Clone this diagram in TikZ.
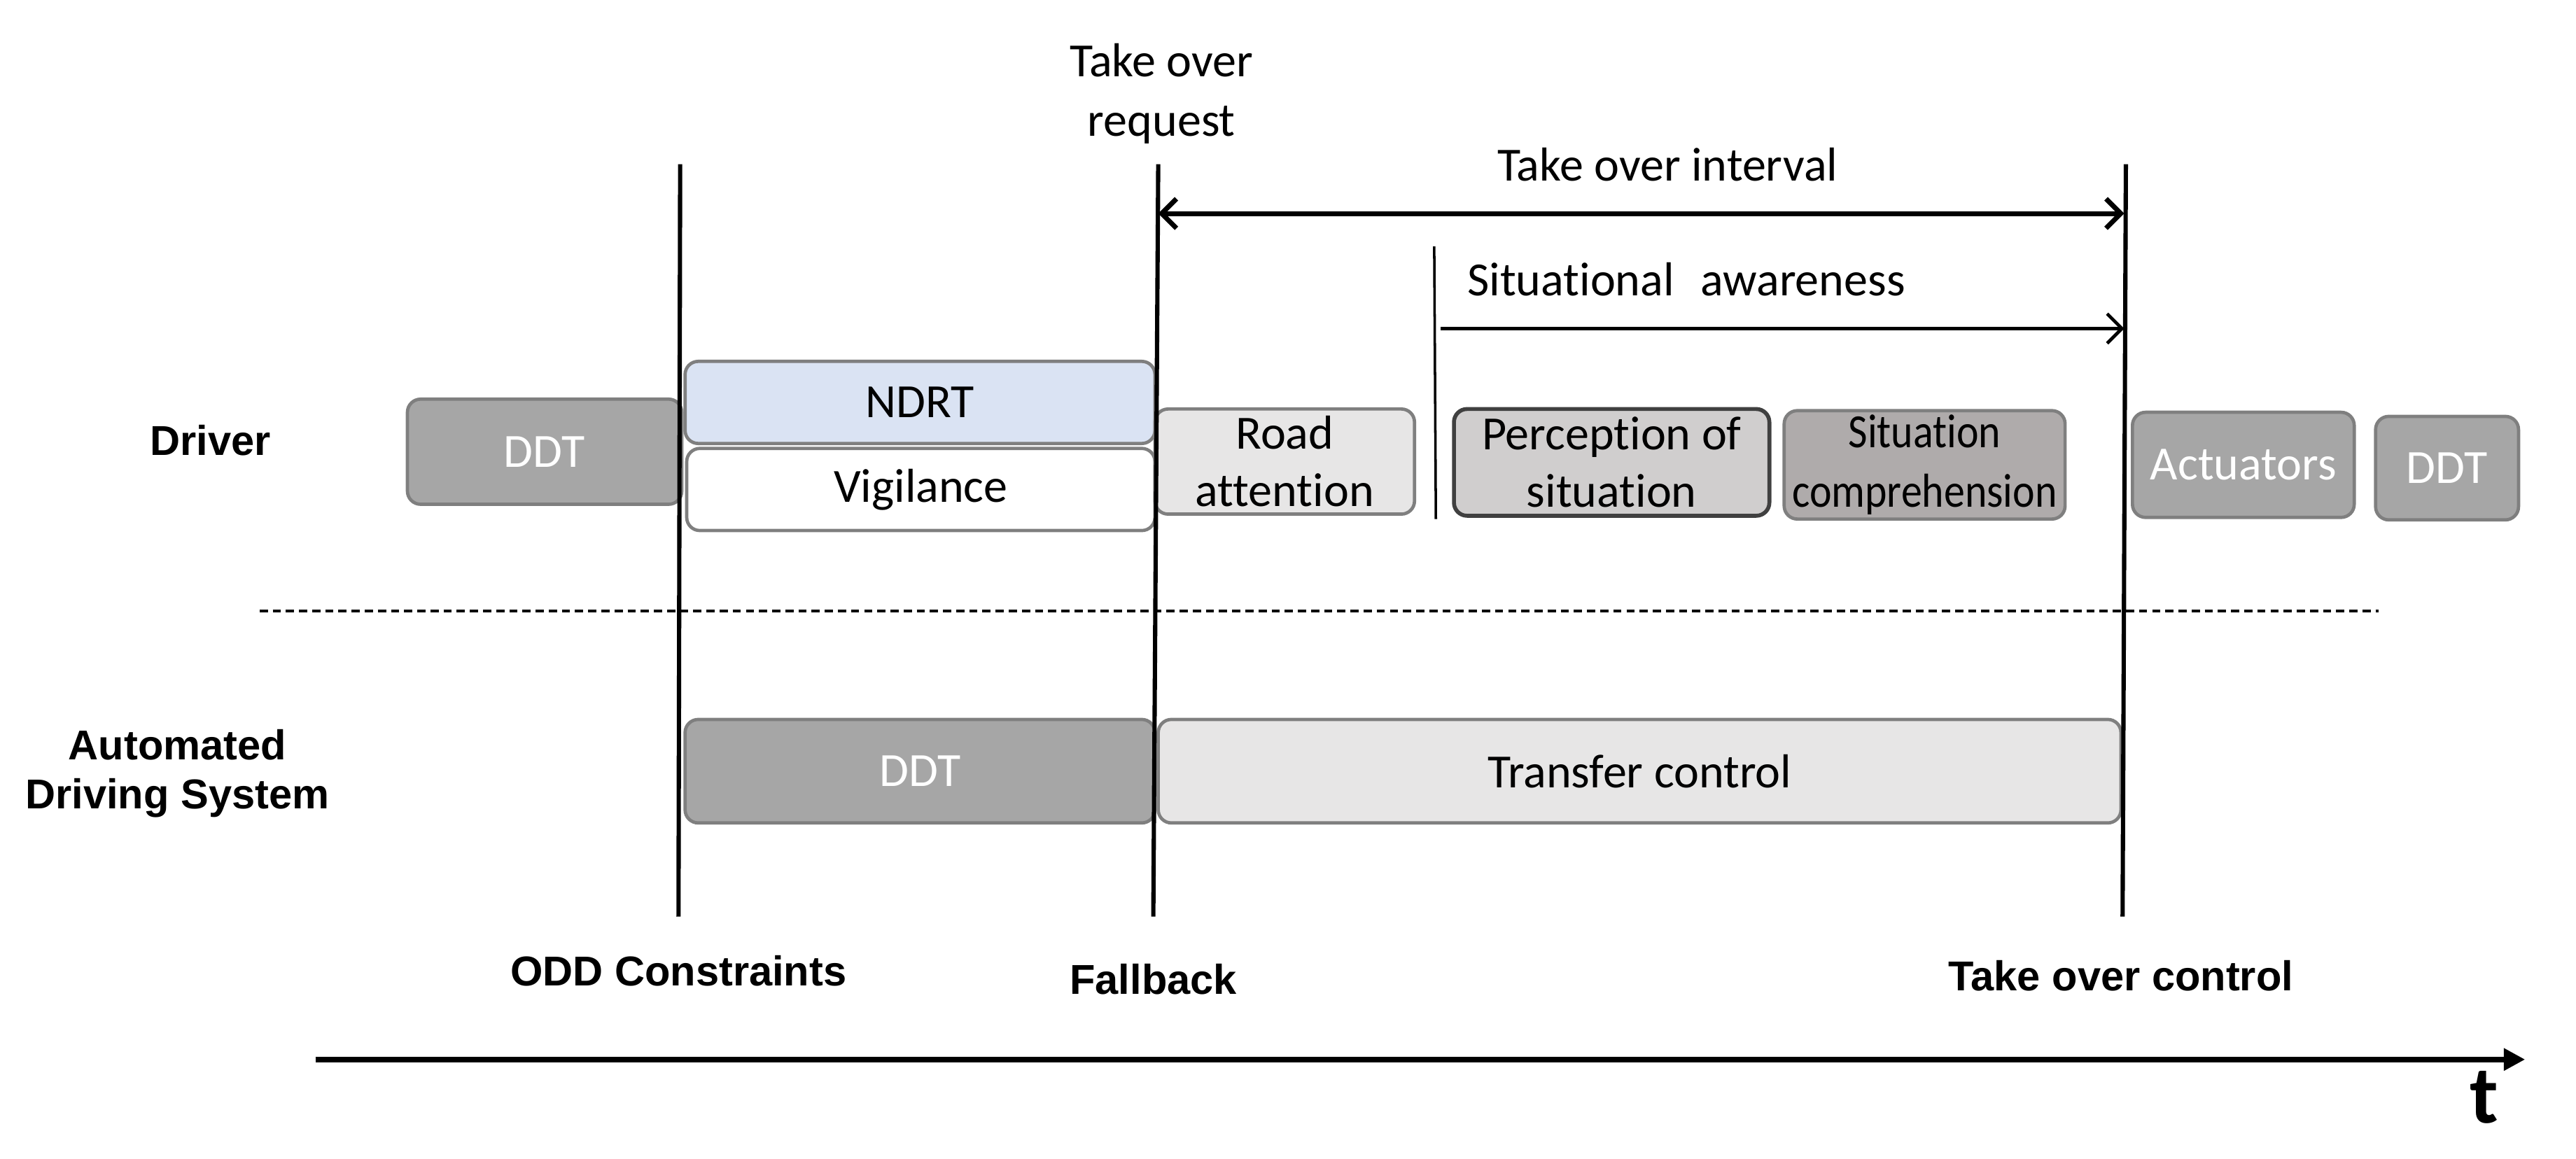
\documentclass[tikz,border=0pt]{standalone}
\usepackage{fontspec}
\setmainfont{Carlito}[Ligatures={NoCommon}]
\newfontfamily\condf{Carlito}[Ligatures={NoCommon},FakeStretch=0.88]
\newfontfamily\arialf{Liberation Sans}
\usetikzlibrary{arrows.meta}
\definecolor{boxline}{HTML}{7F7F7F}
\definecolor{darkline}{HTML}{404040}
\definecolor{midgray}{HTML}{A6A6A6}
\definecolor{lightgray}{HTML}{E7E6E6}
\definecolor{percgray}{HTML}{D0CECE}
\definecolor{compgray}{HTML}{AFABAB}
\definecolor{ndrtblue}{HTML}{DAE3F3}
\tikzset{
  box/.style={draw=boxline, line width=2pt, rounded corners=8pt, inner sep=0pt,
    align=center, font=\fontsize{29}{35}\selectfont},
  darkbox/.style={box, fill=midgray, text=white},
  lbl/.style={font=\fontsize{29}{36}\selectfont, align=center, inner sep=0pt},
  boldlbl/.style={font=\arialf\bfseries\fontsize{25.4}{30}\selectfont, align=center, inner sep=0pt},
  vline/.style={line width=2.6pt},
}
\begin{document}
\begin{tikzpicture}[x=1pt,y=-1pt]
\useasboundingbox (0,0) rectangle (1568,705.6);

% driver row boxes
\node[darkbox, minimum width=167pt, minimum height=64pt] (ddta) at (331.5,275) {DDT};
\node[box, fill=ndrtblue, minimum width=286pt, minimum height=50pt] (ndrt) at (560,245) {NDRT};
\node[box, fill=white, minimum width=285pt, minimum height=50pt] (vig) at (560.5,298) {Vigilance};
\node[box, fill=lightgray, minimum width=158pt, minimum height=64pt] (road) at (782,281) {Road\\ attention};
\node[box, draw=darkline, line width=2.4pt, fill=percgray, minimum width=192pt, minimum height=65pt] (perc) at (981,281.5) {Perception of\\situation};
\node[box, fill=compgray, minimum width=171pt, minimum height=66pt, font=\condf\fontsize{29}{36}\selectfont] (comp) at (1171.5,283) {Situation\\comprehension};
\node[darkbox, minimum width=135pt, minimum height=64pt] (act) at (1365.5,283) {Actuators};
\node[darkbox, minimum width=87pt, minimum height=63pt] (ddtb) at (1489.5,285) {DDT};

% ADS row boxes
\node[darkbox, minimum width=286pt, minimum height=63pt] (ddtc) at (560,469.5) {DDT};
\node[box, fill=lightgray, minimum width=586pt, minimum height=63pt] (trans) at (998,469.5) {Transfer control};

% vertical lines
\coordinate (v1t) at (414,100); \coordinate (v1b) at (413,558);
\coordinate (v2t) at (705,100); \coordinate (v2b) at (702,558);
\coordinate (v3t) at (1294,100); \coordinate (v3b) at (1292,558);
\coordinate (sat) at (873,150); \coordinate (sab) at (874,316);
\draw[vline] (v1t) -- (v1b);
\draw[vline] (v2t) -- (v2b);
\draw[vline] (v3t) -- (v3b);
\draw[line width=1.5pt] (sat) -- (sab);

% interval arrows
\coordinate (tia) at (705,130); \coordinate (tib) at (1293,130);
\draw[line width=3pt, {Straight Barb[length=9pt,width=18pt]}-{Straight Barb[length=9pt,width=18pt]}] (tia) -- (tib);
\coordinate (saa) at (877,200); \coordinate (sabb) at (1293,200);
\draw[line width=2pt, -{Straight Barb[length=9pt,width=18pt]}] (saa) -- (sabb);

% labels
\node[lbl] (tor) at (707,57) {Take over\\request};
\node[lbl] (toi) at (1015,100) {Take over interval};
\node[lbl, anchor=west] (sa) at (893,170) {Situational\hspace{16pt}awareness};
\node[boldlbl] (drv) at (128,268) {Driver};
\node[boldlbl] (ads) at (108,471) {Automated\\Driving System};
\node[boldlbl] (odd) at (413,591) {ODD Constraints};
\node[boldlbl] (fb) at (702,596) {Fallback};
\node[boldlbl] (toc) at (1291,594) {Take over control};

% dashed separator
\coordinate (da) at (158,372); \coordinate (db) at (1448,372);
\draw[line width=2pt, dash pattern=on 5pt off 3pt] (da) -- (db);

% time axis
\coordinate (ta) at (192,645); \coordinate (tb) at (1537,645);
\draw[line width=3.5pt, -{Triangle[length=13pt,width=13pt]}] (ta) -- (tb);
\node[font=\bfseries\fontsize{50}{50}\selectfont, inner sep=0pt] (tlab) at (1512,668) {t};
\end{tikzpicture}
\end{document}
